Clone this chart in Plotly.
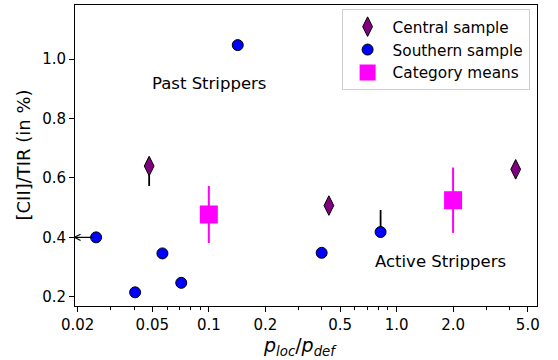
import numpy as np
import plotly.graph_objects as go

# Data
south_x = [0.0251, 0.0405, 0.0566, 0.0713, 0.1426, 0.399, 0.822]
south_y = [0.400, 0.215, 0.346, 0.247, 1.047, 0.348, 0.418]
south_err_up = [0, 0, 0, 0, 0, 0, 0.074]

central_x = [0.0481, 0.436, 4.31]
central_y = [0.640, 0.507, 0.629]
central_err_down = [0.067, 0, 0]

means_x = [0.1, 2.0]
means_y = [0.477, 0.525]
means_err = [0.096, 0.11]

xtick_vals = [0.02, 0.05, 0.1, 0.2, 0.5, 1.0, 2.0, 5.0]
xtick_text = ["0.02", "0.05", "0.1", "0.2", "0.5", "1.0", "2.0", "5.0"]
xminor_vals = [0.03, 0.04, 0.06, 0.07, 0.08, 0.09, 0.3, 0.4, 0.6, 0.7, 0.8, 0.9, 3.0, 4.0]
ytick_vals = [0.2, 0.4, 0.6, 0.8, 1.0]
ytick_text = ["0.2", "0.4", "0.6", "0.8", "1.0"]

divider_x = 0.5
xlim = [-1.7128, 0.748]
ylim = [0.169, 1.182]

FONT = "DejaVu Sans"

fig = go.Figure()

fig.add_trace(go.Scatter(
    x=central_x, y=central_y, mode="markers", name="Central sample", legendgroup="c",
    marker=dict(symbol="diamond-tall", size=14, color="#800080",
                line=dict(color="black", width=1)),
    error_y=dict(type="data", symmetric=False, array=[0, 0, 0],
                 arrayminus=central_err_down, color="black", thickness=1.8, width=0),
))

fig.add_trace(go.Scatter(
    x=south_x, y=south_y, mode="markers", name="Southern sample", legendgroup="s",
    marker=dict(symbol="circle", size=11, color="#0000ff",
                line=dict(color="black", width=1)),
    error_y=dict(type="data", symmetric=False, array=south_err_up,
                 arrayminus=[0] * len(south_x), color="black", thickness=1.8, width=0),
))

fig.add_trace(go.Scatter(
    x=means_x, y=means_y, mode="markers", name="Category means", legendgroup="m",
    marker=dict(symbol="square", size=18, color="#ff00ff"),
    error_y=dict(type="data", array=means_err, color="#ff00ff", thickness=2, width=0),
))

# vertical divider
fig.add_shape(type="line", xref="x", yref="paper",
              x0=np.log10(divider_x), x1=np.log10(divider_x), y0=0, y1=1,
              line=dict(color="#ff00ff", width=2, dash="dash"))

# upper limit arrow
fig.add_annotation(x=xlim[0] - 0.01, y=south_y[0], ax=np.log10(south_x[0]), ay=south_y[0],
                   xref="x", yref="y", axref="x", ayref="y",
                   showarrow=True, arrowhead=5, arrowsize=1, arrowwidth=1.2,
                   arrowcolor="black", text="", standoff=0, startstandoff=0)

fig.add_annotation(x=np.log10(0.1), y=0.918, xref="x", yref="y", text="Past Strippers",
                   showarrow=False, font=dict(family=FONT, size=16.5, color="black"))
fig.add_annotation(x=np.log10(2.0), y=0.318, xref="x", yref="y", text="Active Strippers",
                   showarrow=False, xanchor="center", xshift=-13,
                   font=dict(family=FONT, size=16.5, color="black"))

# axis titles
fig.add_annotation(x=0.5, y=-0.133, xref="paper", yref="paper", xshift=-6,
                   text="<i>p</i><sub><i>loc</i></sub>/<i>p</i><sub><i>def</i></sub>",
                   showarrow=False, yanchor="middle",
                   font=dict(family=FONT, size=19, color="black"))
fig.add_annotation(x=0, y=0.5, xref="paper", yref="paper", xshift=-52,
                   text="[CII]/TIR (in %)", textangle=-90,
                   showarrow=False, xanchor="center", yanchor="middle",
                   font=dict(family=FONT, size=18, color="black"))

fig.update_layout(
    width=558, height=360,
    margin=dict(l=75, r=21, t=5, b=54),
    paper_bgcolor="white", plot_bgcolor="white",
    font=dict(family=FONT, size=15, color="black"),
    showlegend=True,
    legend=dict(x=0.984, y=0.986, xanchor="right", yanchor="top",
                bgcolor="white", bordercolor="#d0d0d0", borderwidth=1,
                font=dict(family=FONT, size=15.3), itemsizing="trace",
                itemwidth=40, tracegroupgap=0),
    xaxis=dict(type="log", range=xlim, showgrid=False, zeroline=False,
               showline=True, linecolor="black", linewidth=1, mirror=True,
               ticks="outside", ticklen=5, tickwidth=1, tickcolor="black",
               tickmode="array", tickvals=xtick_vals, ticktext=xtick_text,
               tickfont=dict(family=FONT, size=15),
               minor=dict(tickmode="array", tickvals=xminor_vals, ticks="outside",
                          ticklen=3, tickwidth=0.8, tickcolor="black", showgrid=False)),
    yaxis=dict(range=ylim, showgrid=False, zeroline=False,
               showline=True, linecolor="black", linewidth=1, mirror=True,
               ticks="outside", ticklen=5, tickwidth=1, tickcolor="black",
               tickmode="array", tickvals=ytick_vals, ticktext=ytick_text,
               tickfont=dict(family=FONT, size=15)),
)

fig.write_html("out.html", config={"displayModeBar": False},
               post_script="document.body.style.margin='0';document.body.style.overflow='hidden';")
